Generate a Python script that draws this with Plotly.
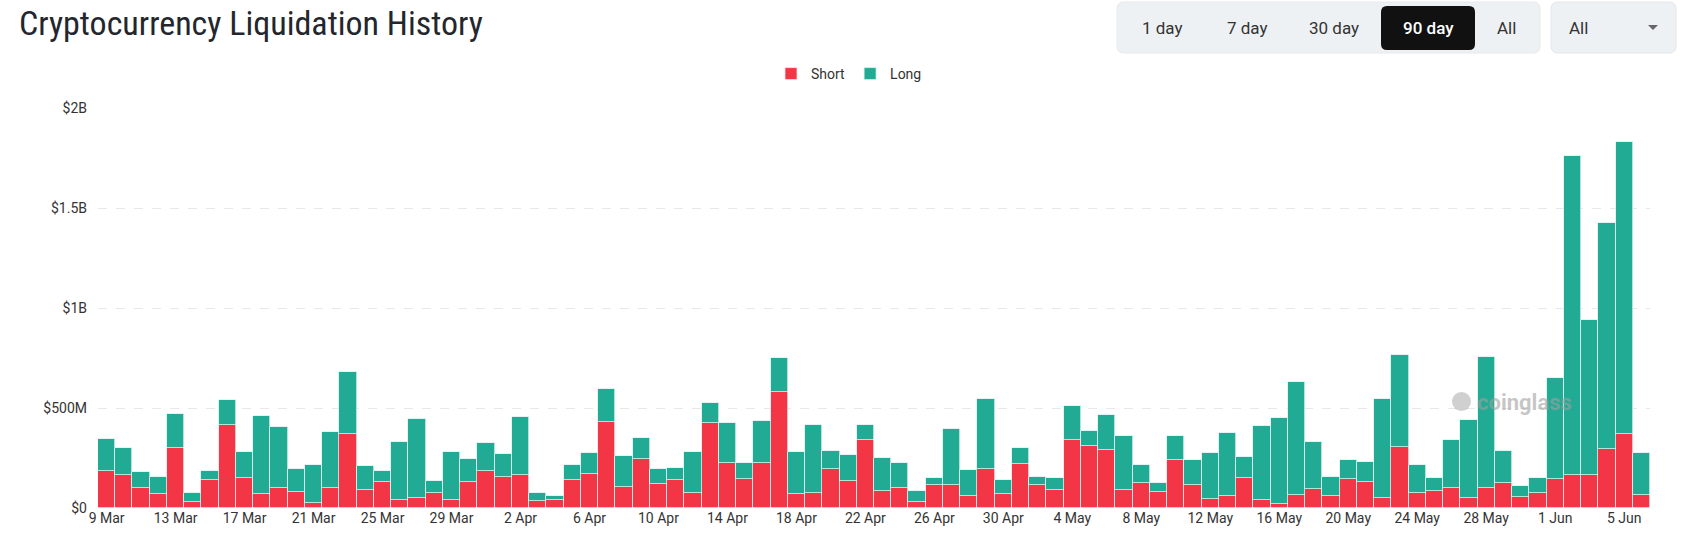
import plotly.graph_objects as go
import pandas as pd

dates = pd.date_range("2024-03-09", periods=90, freq="D")

total_m = [347, 298, 178, 157, 468, 77, 183, 538, 278, 462,
           405, 193, 217, 378, 678, 208, 185, 330, 447, 133,
           278, 243, 323, 270, 455, 73, 62, 213, 277, 597,
           258, 348, 193, 200, 278, 525, 427, 225, 435, 752,
           282, 415, 283, 263, 413, 248, 223, 85, 152, 397,
           188, 543, 140, 300, 155, 150, 510, 387, 465, 358,
           215, 127, 360, 242, 275, 373, 253, 412, 452, 628,
           328, 157, 238, 230, 547, 765, 213, 148, 340, 440,
           753, 283, 110, 152, 648, 1762, 938, 1423, 1828, 273]

short_m = [185, 165, 102, 72, 302, 32, 140, 415, 150, 70,
           98, 78, 25, 98, 368, 88, 130, 40, 52, 77,
           42, 130, 187, 155, 167, 35, 40, 142, 172, 430,
           103, 243, 122, 138, 75, 427, 225, 147, 225, 580,
           72, 75, 197, 135, 338, 87, 102, 30, 117, 117,
           60, 197, 68, 218, 117, 90, 342, 312, 292, 90,
           125, 82, 240, 117, 45, 62, 152, 40, 20, 63,
           97, 58, 147, 130, 50, 307, 77, 87, 100, 52,
           102, 127, 57, 77, 143, 167, 167, 297, 368, 65]

short_vals = [s * 1e6 for s in short_m]
long_vals = [(t - s) * 1e6 for t, s in zip(total_m, short_m)]

y_tick_vals = [0, 5e8, 1e9, 1.5e9, 2e9]
y_tick_text = ["$0", "$500M", "$1B", "$1.5B", "$2B"]

RED = "#F23645"
TEAL = "#22AB94"
W, H = 1693, 545
L, R, T, B = 98, 43, 108, 37
PW, PH = W - L - R, H - T - B

def px(x):
    return (x - L) / PW

def py(y):
    return (H - B - y) / PH

fig = go.Figure()
fig.add_trace(go.Bar(x=dates, y=short_vals, name="Short", marker=dict(color=RED, line=dict(color="#fbe3e5", width=0.8))))
fig.add_trace(go.Bar(x=dates, y=long_vals, name="Long", marker=dict(color=TEAL, line=dict(color="#d8f3ee", width=0.8))))

font_main = "Roboto, Open Sans, sans-serif"

def rrect(x0, y0, x1, y1, r, fill, line=None):
    X0, X1 = px(x0), px(x1)
    Y0, Y1 = py(y0), py(y1)
    rx = r / PW
    ry = r / PH
    path = (f"M {X0+rx},{Y0} L {X1-rx},{Y0} Q {X1},{Y0} {X1},{Y0-ry} "
            f"L {X1},{Y1+ry} Q {X1},{Y1} {X1-rx},{Y1} L {X0+rx},{Y1} "
            f"Q {X0},{Y1} {X0},{Y1+ry} L {X0},{Y0-ry} Q {X0},{Y0} {X0+rx},{Y0} Z")
    return dict(type="path", xref="paper", yref="paper", path=path,
                fillcolor=fill, line=dict(color=line or fill, width=1 if line else 0), layer="above")

shapes = [
    rrect(1117, 2, 1540, 53, 7, "#EEF1F4", "#E6E9ED"),
    rrect(1381, 6, 1475, 50, 6, "#111111"),
    rrect(1551, 2, 1676, 53, 7, "#EEF1F4", "#E3E6EA"),
    dict(type="path", xref="paper", yref="paper",
         path=f"M {px(1648)},{py(25)} L {px(1658)},{py(25)} L {px(1653)},{py(30)} Z",
         fillcolor="#666666", line=dict(width=0)),
    dict(type="circle", xref="paper", yref="paper",
         x0=px(1452), x1=px(1471), y0=py(392), y1=py(411),
         fillcolor="rgba(170,170,170,0.55)", line=dict(width=0), layer="above"),
]

annotations = []
for label, cx, color, weight in [("1 day", 1162, "#333333", 400), ("7 day", 1247, "#333333", 400),
                                  ("30 day", 1334, "#333333", 400), ("90 day", 1428, "#FFFFFF", 500),
                                  ("All", 1506, "#333333", 400)]:
    annotations.append(dict(xref="paper", yref="paper", x=px(cx), y=py(28), text=label,
                            showarrow=False, xanchor="center", yanchor="middle",
                            font=dict(family=font_main, size=17, color=color, weight=weight)))
annotations.append(dict(xref="paper", yref="paper", x=px(1567), y=py(28), text="All",
                        showarrow=False, xanchor="left", yanchor="middle",
                        font=dict(family=font_main, size=17, color="#333333")))
annotations.append(dict(xref="paper", yref="paper", x=px(1475), y=py(402), text="coinglass",
                        showarrow=False, xanchor="left", yanchor="middle",
                        font=dict(family="Roboto, sans-serif", size=22, color="rgba(160,160,160,0.6)", weight=700)))

fig.update_layout(
    width=W, height=H,
    margin=dict(l=L, r=R, t=T, b=B),
    paper_bgcolor="white", plot_bgcolor="white",
    barmode="stack", bargap=0.0,
    title=dict(text="Cryptocurrency Liquidation History", xref="container", yref="container",
               x=19 / W, xanchor="left", y=1 - 23 / H, yanchor="middle",
               font=dict(family="Roboto Condensed, Liberation Sans Narrow, Roboto, sans-serif",
                         size=34, color="#23272d", weight=400)),
    legend=dict(orientation="h", x=px(849), xanchor="center", y=py(74), yanchor="middle",
                traceorder="normal",
                font=dict(family=font_main, size=14, color="#333333"), itemwidth=30,
                bgcolor="rgba(0,0,0,0)"),
    xaxis=dict(type="date", range=[dates[0] - pd.Timedelta(hours=12), dates[-1] + pd.Timedelta(hours=12)],
               tickmode="array", tickvals=list(dates[::4]),
               ticktext=[f"{d.day} {d.strftime('%b')}" for d in dates[::4]],
               showgrid=False, showline=False, ticks="", zeroline=False,
               tickfont=dict(family=font_main, size=14, color="#333333")),
    yaxis=dict(range=[0, 2e9], tickvals=y_tick_vals, ticktext=y_tick_text,
               showgrid=True, gridcolor="#E8E8E8", griddash="dash", gridwidth=1,
               zeroline=False, showline=False, ticks="", ticklabelstandoff=10,
               tickfont=dict(family=font_main, size=14, color="#333333")),
    shapes=shapes,
    annotations=annotations,
    hovermode="x unified",
)

fig.write_html("out.html")
